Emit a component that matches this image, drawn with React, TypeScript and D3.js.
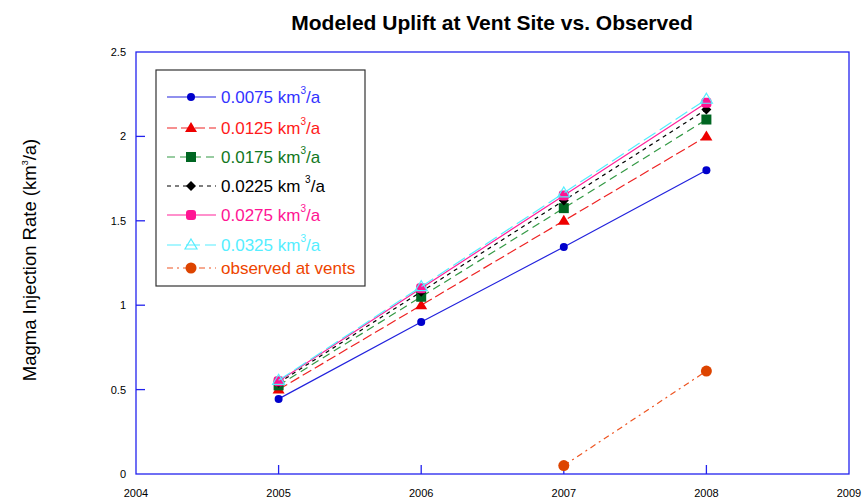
import * as d3 from 'd3';

const years = [2005, 2006, 2007, 2008];
const rate0075 = [0.445, 0.9, 1.345, 1.8];
const rate0125 = [0.5, 1.0, 1.5, 2.0];
const rate0175 = [0.525, 1.05, 1.575, 2.1];
const rate0225 = [0.54, 1.08, 1.62, 2.16];
const rate0275 = [0.55, 1.1, 1.65, 2.2];
const rate0325 = [0.555, 1.11, 1.665, 2.22];
const obsYears = [2007, 2008];
const observed = [0.05, 0.61];
const xTicks = [2004, 2005, 2006, 2007, 2008, 2009];
const yTicks = [0, 0.5, 1, 1.5, 2, 2.5];

type Series = {
  label: string;
  sup?: string;
  after?: string;
  xs: number[];
  ys: number[];
  line: string;
  text: string;
  dash: string;
  marker: 'circle' | 'triangle' | 'square' | 'diamond' | 'pink' | 'opentri';
  fill: string;
};

const series: Series[] = [
  { label: '0.0075 km', sup: '3', after: '/a', xs: years, ys: rate0075, line: '#2222dd', text: '#3333ff', dash: '', marker: 'circle', fill: '#0000cc' },
  { label: '0.0125 km', sup: '3', after: '/a', xs: years, ys: rate0125, line: '#ee2222', text: '#ff1a1a', dash: '10,4', marker: 'triangle', fill: '#ee0000' },
  { label: '0.0175 km', sup: '3', after: '/a', xs: years, ys: rate0175, line: '#339944', text: '#117722', dash: '8,5', marker: 'square', fill: '#006622' },
  { label: '0.0225 km ', sup: '3', after: '/a', xs: years, ys: rate0225, line: '#000000', text: '#000000', dash: '4,4', marker: 'diamond', fill: '#000000' },
  { label: '0.0275 km', sup: '3', after: '/a', xs: years, ys: rate0275, line: '#ff2299', text: '#ff1493', dash: '', marker: 'pink', fill: '#ff1493' },
  { label: '0.0325 km', sup: '3', after: '/a', xs: years, ys: rate0325, line: '#55eeff', text: '#55eeff', dash: '14,5', marker: 'opentri', fill: '#ffffff' },
  { label: 'observed at vents', xs: obsYears, ys: observed, line: '#ee5522', text: '#ee4400', dash: '6,4,2,4', marker: 'circle', fill: '#dd4400' },
];

function Marker({ s, x, y }: { s: Series; x: number; y: number }) {
  const m = s.marker;
  if (m === 'circle') {
    const r = s.label.startsWith('obs') ? 5.5 : 4;
    return <circle cx={x} cy={y} r={r} fill={s.fill} />;
  }
  if (m === 'triangle') {
    return <path d={`M${x},${y - 6}L${x + 6},${y + 4}L${x - 6},${y + 4}Z`} fill={s.fill} />;
  }
  if (m === 'square') {
    return <rect x={x - 5} y={y - 5} width={10} height={10} fill={s.fill} />;
  }
  if (m === 'diamond') {
    return <path d={`M${x},${y - 5}L${x + 5},${y}L${x},${y + 5}L${x - 5},${y}Z`} fill={s.fill} />;
  }
  if (m === 'pink') {
    return <rect x={x - 5} y={y - 5} width={10} height={10} rx={3} fill={s.fill} />;
  }
  return (
    <path d={`M${x},${y - 6}L${x + 6},${y + 4}L${x - 6},${y + 4}Z`} fill="none" stroke={s.line} strokeWidth={1.2} />
  );
}

export default function App() {
  const width = 864;
  const height = 501;
  const x = d3.scaleLinear().domain([2004, 2009]).range([136, 849]);
  const y = d3.scaleLinear().domain([0, 2.5]).range([474, 52]);
  const line = d3.line<[number, number]>().x(d => x(d[0])).y(d => y(d[1]));
  const axisColor = '#2222ee';
  const font = "'Liberation Sans', Arial, sans-serif";

  const legendRows = [97, 128, 157, 186, 215, 245, 268];

  return (
    <svg width={width} height={height} style={{ position: 'absolute', left: 0, top: 0, background: '#fff' }} fontFamily={font}>
      <text x={492} y={30} textAnchor="middle" fontSize={21} fontWeight="bold" fill="#000">
        Modeled Uplift at Vent Site vs. Observed
      </text>

      <text transform={`translate(36,260) rotate(-90)`} textAnchor="middle" fontSize={18.5} fill="#000">
        Magma Injection Rate (km<tspan fontSize={9} dy={-8}>3</tspan><tspan dy={8}>/a)</tspan>
      </text>

      {/* frame */}
      <rect x={136} y={52} width={713} height={422} fill="none" stroke={axisColor} strokeWidth={1.3} />

      {yTicks.map(t => (
        <g key={`y${t}`}>
          {t > 0 && t < 2.5 && <line x1={136} x2={145} y1={y(t)} y2={y(t)} stroke={axisColor} strokeWidth={1.3} />}
          <text x={126} y={y(t) + 4} textAnchor="end" fontSize={11} fill="#000">{t}</text>
        </g>
      ))}
      {xTicks.map(t => (
        <g key={`x${t}`}>
          {t > 2004 && t < 2009 && <line x1={x(t)} x2={x(t)} y1={474} y2={465} stroke={axisColor} strokeWidth={1.3} />}
          <text x={x(t)} y={497} textAnchor="middle" fontSize={11} fill="#000">{t}</text>
        </g>
      ))}

      {series.map((s, i) => (
        <g key={`s${i}`}>
          <path
            d={line(s.xs.map((v, j) => [v, s.ys[j]] as [number, number])) || ''}
            fill="none"
            stroke={s.line}
            strokeWidth={1.2}
            strokeDasharray={s.dash}
          />
          {s.xs.map((v, j) => (
            <Marker key={j} s={s} x={x(v)} y={y(s.ys[j])} />
          ))}
        </g>
      ))}

      {/* legend */}
      <rect x={156} y={70} width={209} height={216} fill="#fff" stroke="#333" strokeWidth={1.2} />
      {series.map((s, i) => {
        const ry = legendRows[i];
        return (
          <g key={`l${i}`}>
            <line x1={167} x2={216} y1={ry} y2={ry} stroke={s.line} strokeWidth={1.2} strokeDasharray={s.dash} />
            <Marker s={s} x={191} y={ry} />
            <text x={221} y={ry + 6} fontSize={17} fill={s.text}>
              {s.label}
              {s.sup && <tspan fontSize={10} dy={-9}>{s.sup}</tspan>}
              {s.after && <tspan dy={9}>{s.after}</tspan>}
            </text>
          </g>
        );
      })}
    </svg>
  );
}
